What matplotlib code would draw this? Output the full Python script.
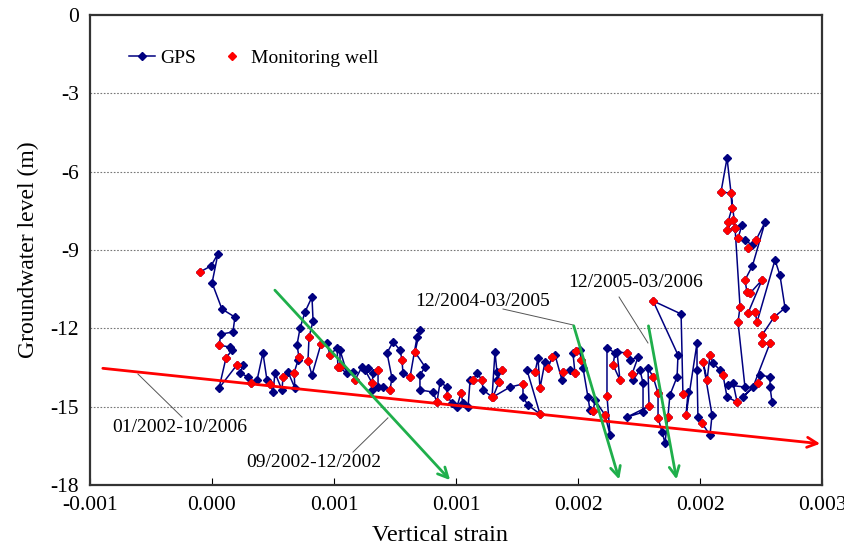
import numpy as np
import matplotlib
matplotlib.use("Agg")
import matplotlib.pyplot as plt

plt.rcParams['font.family'] = ['Liberation Serif', 'DejaVu Serif']
plt.rcParams['axes.unicode_minus'] = False

# vertical strain (x 1e-3) and groundwater level (m), GPS series in time order
gps_x = [-0.399, -0.339, -0.301, -0.333, -0.279, -0.208, -0.219, -0.284, -0.295, -0.235,
         -0.224, -0.257, -0.295, -0.197, -0.164, -0.180, -0.137, -0.120, -0.087, -0.055,
         -0.033, -0.016, 0.000, 0.011, 0.049, 0.055, 0.082, 0.120, 0.115, 0.137,
         0.142, 0.131, 0.148, 0.175, 0.213, 0.219, 0.197, 0.191, 0.213, 0.262,
         0.295, 0.311, 0.350, 0.355, 0.404, 0.366, 0.366, 0.437, 0.448, 0.486,
         0.519, 0.503, 0.541, 0.541, 0.546, 0.574, 0.574, 0.601, 0.639, 0.650,
         0.623, 0.656, 0.694, 0.705, 0.710, 0.749, 0.787, 0.803, 0.776, 0.831,
         0.803, 0.803, 0.874, 0.896, 0.913, 0.951, 0.951, 0.978, 1.005, 1.027,
         1.038, 1.066, 1.077, 1.093, 1.115, 1.142, 1.148, 1.197, 1.213, 1.224,
         1.251, 1.224, 1.235, 1.202, 1.295, 1.366, 1.366, 1.393, 1.459, 1.388,
         1.432, 1.448, 1.459, 1.486, 1.503, 1.525, 1.541, 1.579, 1.585, 1.623,
         1.650, 1.639, 1.656, 1.678, 1.683, 1.694, 1.721, 1.732, 1.749, 1.760,
         1.814, 1.842, 1.825, 1.825, 1.869, 1.858, 1.896, 1.880, 1.934, 1.951,
         1.995, 1.962, 1.967, 2.005, 2.022, 2.022, 1.934, 2.055, 2.049, 2.077,
         2.104, 2.104, 2.126, 2.142, 2.158, 2.169, 2.208, 2.213, 2.077, 2.230,
         2.240, 2.268, 2.257, 2.317, 2.317, 2.322, 2.344, 2.388, 2.399, 2.350,
         2.372, 2.388, 2.404, 2.443, 2.459, 2.481, 2.536, 2.514, 2.486, 2.579,
         2.541, 2.552, 2.525, 2.481, 2.448, 2.503, 2.508, 2.486, 2.514, 2.481,
         2.525, 2.563, 2.541, 2.579, 2.617, 2.596, 2.639, 2.689, 2.620, 2.579,
         2.590, 2.607, 2.672, 2.596, 2.634, 2.645, 2.743, 2.770, 2.798, 2.738,
         2.672, 2.672, 2.716, 2.623, 2.568, 2.650, 2.661, 2.716, 2.716, 2.727]
gps_y = [-9.84, -9.61, -9.15, -10.26, -11.26, -11.57, -12.14, -12.22, -12.64, -12.72,
         -12.83, -13.14, -14.29, -13.40, -13.40, -13.71, -13.86, -14.09, -13.98, -12.94,
         -13.98, -14.13, -14.44, -13.71, -14.36, -13.86, -13.67, -14.29, -13.71, -13.21,
         -13.10, -12.64, -11.99, -11.37, -10.80, -11.72, -12.33, -13.25, -13.79, -12.60,
         -12.56, -13.02, -12.75, -13.48, -13.71, -12.83, -13.48, -13.67, -13.98, -13.48,
         -13.52, -13.60, -14.09, -14.36, -13.71, -13.60, -14.25, -14.25, -14.36, -13.90,
         -12.94, -12.52, -12.83, -13.21, -13.71, -13.86, -12.33, -12.06, -12.91, -13.48,
         -13.79, -14.36, -14.44, -14.82, -14.06, -14.25, -14.59, -14.86, -15.01, -14.48,
         -14.86, -15.01, -13.98, -13.98, -13.71, -13.98, -14.36, -14.63, -12.91, -13.67,
         -13.60, -13.98, -14.06, -14.63, -14.25, -14.13, -14.63, -14.94, -15.28, -13.60,
         -13.67, -13.14, -14.29, -13.29, -13.52, -13.10, -13.02, -13.98, -13.67, -13.60,
         -13.71, -12.94, -12.87, -12.83, -13.21, -13.52, -14.63, -15.13, -15.17, -14.75,
         -15.32, -16.09, -14.59, -12.75, -12.94, -13.40, -13.98, -12.91, -12.94, -13.21,
         -13.10, -13.75, -13.98, -13.60, -14.09, -15.21, -15.40, -14.98, -13.52, -13.86,
         -14.48, -15.43, -15.97, -16.39, -15.40, -14.55, -13.86, -13.02, -10.95, -11.45,
         -14.52, -14.44, -15.32, -12.56, -13.60, -15.40, -15.63, -16.09, -15.32, -13.29,
         -13.98, -13.02, -13.33, -13.60, -13.79, -14.63, -14.82, -14.09, -14.17, -14.25,
         -11.76, -11.18, -8.16, -5.48, -6.78, -6.82, -7.39, -7.93, -7.85, -8.23,
         -8.16, -8.04, -8.54, -8.62, -8.81, -8.92, -8.62, -7.93, -9.60, -10.15,
         -10.61, -10.65, -10.15, -11.41, -11.37, -11.76, -9.38, -9.96, -11.22, -11.57,
         -12.26, -12.56, -12.56, -14.25, -14.63, -14.09, -13.79, -13.86, -14.25, -14.82]

# monitoring well readings
well_x = [-0.399, -0.295, -0.257, -0.197, -0.120, -0.016, 0.055, 0.115, 0.142, 0.197,
          0.191, 0.262, 0.311, 0.355, 0.366, 0.448, 0.541, 0.574, 0.639, 0.705,
          0.749, 0.776, 0.896, 0.951, 1.027, 1.093, 1.142, 1.197, 1.251, 1.235,
          1.202, 1.366, 1.459, 1.432, 1.459, 1.503, 1.525, 1.585, 1.650, 1.656,
          1.683, 1.749, 1.814, 1.825, 1.858, 1.896, 1.934, 1.962, 2.055, 2.077,
          2.104, 2.104, 2.158, 2.077, 2.240, 2.257, 2.344, 2.350, 2.372, 2.388,
          2.459, 2.536, 2.650, 2.541, 2.552, 2.448, 2.503, 2.508, 2.486, 2.514,
          2.481, 2.525, 2.541, 2.596, 2.639, 2.579, 2.590, 2.607, 2.672, 2.596,
          2.634, 2.645, 2.672, 2.672, 2.716, 2.738]
well_y = [-9.84, -12.64, -13.14, -13.40, -14.09, -14.13, -13.86, -13.71, -13.10, -12.33,
          -13.25, -12.60, -13.02, -13.48, -13.48, -13.98, -14.09, -13.60, -14.36, -13.21,
          -13.86, -12.91, -14.82, -14.59, -14.48, -13.98, -13.98, -14.63, -13.60, -14.06,
          -14.63, -14.13, -15.28, -13.67, -14.29, -13.52, -13.10, -13.67, -13.71, -12.87,
          -13.21, -15.17, -15.32, -14.59, -13.40, -13.98, -12.94, -13.75, -14.98, -13.86,
          -14.48, -15.43, -15.40, -10.95, -14.52, -15.32, -15.63, -13.29, -13.98, -13.02,
          -13.79, -14.82, -14.09, -11.76, -11.18, -6.78, -6.82, -7.39, -7.93, -7.85,
          -8.23, -8.16, -8.54, -8.92, -8.62, -10.15, -10.61, -10.65, -10.15, -11.41,
          -11.37, -11.76, -12.26, -12.56, -12.56, -11.57]

# trend lines (start, end) in strain x 1e-3 and m
red_trend = [(-0.945, -13.52), (3.005, -16.43)]
green_trends = [[(0.000, -10.46), (0.978, -17.89)],
                [(1.639, -11.80), (1.896, -17.89)],
                [(2.049, -11.80), (2.208, -17.89)]]

# period labels: text position, leader start, leader end
periods = ['01/2002-10/2006', '09/2002-12/2002', '12/2004-03/2005', '12/2005-03/2006']
label_pos = [(-0.511, -15.78), (0.221, -17.12), (1.148, -10.99), (1.984, -10.26)]
leader_from = [(-0.497, -15.40), (0.437, -16.74), (1.257, -11.26), (1.891, -10.80)]
leader_to = [(-0.738, -13.75), (0.628, -15.43), (1.639, -11.87), (2.049, -12.56)]

xticks = np.linspace(-0.001, 0.003, 7)
xtick_labels = ['-0.001', '0.000', '0.001', '0.001', '0.002', '0.002', '0.003']
yticks = [0, -3, -6, -9, -12, -15, -18]

s = 1e-3

fig = plt.figure(figsize=(8.45, 5.48), dpi=100)
ax = fig.add_axes([0.1065, 0.115, 0.8663, 0.8575])

ax.plot(np.array(gps_x) * s, gps_y, color='#000080', lw=1.1, marker='D', ms=4.5,
        label='GPS', zorder=3)
ax.plot(np.array(well_x) * s, well_y, color='red', lw=0, marker='D', ms=4.5,
        label='Monitoring well', zorder=4)

(x0, y0), (x1, y1) = red_trend
ax.annotate('', xy=(x1 * s, y1), xytext=(x0 * s, y0), annotation_clip=False,
            arrowprops=dict(arrowstyle='->', color='red', lw=2, mutation_scale=18),
            zorder=5)
for (gx0, gy0), (gx1, gy1) in green_trends:
    ax.annotate('', xy=(gx1 * s, gy1), xytext=(gx0 * s, gy0), annotation_clip=False,
                arrowprops=dict(arrowstyle='->', color='#1faf4b', lw=2, mutation_scale=18),
                zorder=5)

for txt, (tx, ty), (ax0, ay0), (ax1, ay1) in zip(periods, label_pos, leader_from, leader_to):
    ax.plot([ax0 * s, ax1 * s], [ay0, ay1], color='#555555', lw=0.7, zorder=2)
    ax.text(tx * s, ty, txt, fontsize=14, ha='center', va='center', zorder=6)

ax.set_xlim(-0.001, 0.003)
ax.set_ylim(-18, 0)
ax.set_xticks(xticks)
ax.set_xticklabels(xtick_labels)
ax.set_yticks(yticks)
ax.tick_params(axis='x', direction='in', length=5, labelsize=15.5, pad=8)
ax.tick_params(axis='y', length=0, labelsize=15.5, pad=8)
for y in yticks[1:-1]:
    ax.axhline(y, color='#777777', lw=0.8, ls=(0, (1.5, 1.5)), zorder=1)
for sp in ax.spines.values():
    sp.set_color('#333333')
    sp.set_linewidth(1.6)

ax.set_xlabel('Vertical strain', fontsize=17.5, labelpad=6)
ax.xaxis.set_label_coords(0.478, -0.085)
ax.set_ylabel('Groundwater level (m)', fontsize=17, labelpad=8)

ax.legend(loc='upper left', bbox_to_anchor=(0.03, 0.965), ncol=2, frameon=False,
          fontsize=14, handlelength=1.3, handletextpad=0.3, columnspacing=1.2)

fig.savefig('out.png', dpi=100)
